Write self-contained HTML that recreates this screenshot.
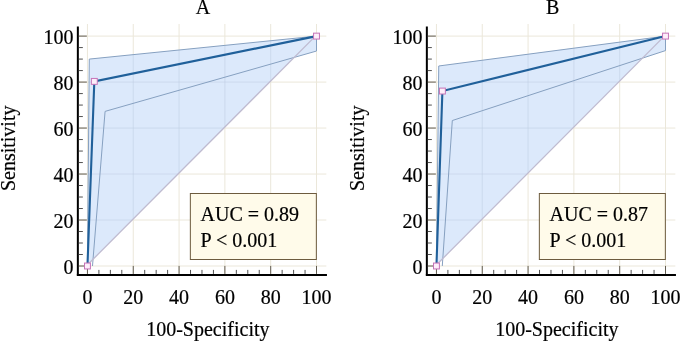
<!DOCTYPE html>
<html><head><meta charset="utf-8"><style>
html,body{margin:0;padding:0;background:#fff;}
svg{display:block;will-change:transform;}
text{font-family:"Liberation Serif",serif;font-size:20px;fill:#000;stroke:#000;stroke-width:0.2px;}
</style></head><body>
<svg width="681" height="341" viewBox="0 0 681 341">
<rect width="681" height="341" fill="#fff"/>
<line x1="77.85" y1="266.00" x2="326.35" y2="266.00" stroke="#ebe7da" stroke-width="1"/>
<line x1="87.45" y1="24" x2="87.45" y2="274" stroke="#ebe7da" stroke-width="1"/>
<line x1="77.85" y1="220.02" x2="326.35" y2="220.02" stroke="#ebe7da" stroke-width="1"/>
<line x1="133.26" y1="24" x2="133.26" y2="274" stroke="#ebe7da" stroke-width="1"/>
<line x1="77.85" y1="174.04" x2="326.35" y2="174.04" stroke="#ebe7da" stroke-width="1"/>
<line x1="179.07" y1="24" x2="179.07" y2="274" stroke="#ebe7da" stroke-width="1"/>
<line x1="77.85" y1="128.06" x2="326.35" y2="128.06" stroke="#ebe7da" stroke-width="1"/>
<line x1="224.88" y1="24" x2="224.88" y2="274" stroke="#ebe7da" stroke-width="1"/>
<line x1="77.85" y1="82.08" x2="326.35" y2="82.08" stroke="#ebe7da" stroke-width="1"/>
<line x1="270.69" y1="24" x2="270.69" y2="274" stroke="#ebe7da" stroke-width="1"/>
<line x1="77.85" y1="36.10" x2="326.35" y2="36.10" stroke="#ebe7da" stroke-width="1"/>
<line x1="316.50" y1="24" x2="316.50" y2="274" stroke="#ebe7da" stroke-width="1"/>
<clipPath id="cA"><polygon points="87.45,266.00 89.28,59.09 316.50,36.10 316.50,51.04 294.16,57.42 86.35,266.00"/></clipPath>
<polygon points="87.45,266.00 89.28,59.09 316.50,36.10 316.50,51.04 294.16,57.42 86.35,266.00" fill="#dce9fb"/>
<g clip-path="url(#cA)" stroke="#c0cde2" stroke-opacity="0.55" stroke-width="1"><line x1="77.85" y1="266.00" x2="326.35" y2="266.00"/><line x1="87.45" y1="24" x2="87.45" y2="274"/><line x1="77.85" y1="220.02" x2="326.35" y2="220.02"/><line x1="133.26" y1="24" x2="133.26" y2="274"/><line x1="77.85" y1="174.04" x2="326.35" y2="174.04"/><line x1="179.07" y1="24" x2="179.07" y2="274"/><line x1="77.85" y1="128.06" x2="326.35" y2="128.06"/><line x1="224.88" y1="24" x2="224.88" y2="274"/><line x1="77.85" y1="82.08" x2="326.35" y2="82.08"/><line x1="270.69" y1="24" x2="270.69" y2="274"/><line x1="77.85" y1="36.10" x2="326.35" y2="36.10"/><line x1="316.50" y1="24" x2="316.50" y2="274"/></g>
<polyline points="87.45,266.00 89.28,59.09 316.50,36.10" fill="none" stroke="#86a0c0" stroke-width="1"/>
<polyline points="92.49,266.00 105.09,111.39 316.50,51.04 316.50,36.10" fill="none" stroke="#86a0c0" stroke-width="1"/>
<line x1="86.35" y1="266.00" x2="315.40" y2="36.10" stroke="#bfbbd0" stroke-width="1.3"/>
<polyline points="87.45,266.00 94.32,81.39 316.50,36.10" fill="none" stroke="#20609a" stroke-width="2.1"/>
<line x1="77.85" y1="26.5" x2="77.85" y2="275.5" stroke="#000" stroke-width="2"/>
<line x1="76.85" y1="274.9" x2="326.95" y2="274.9" stroke="#000" stroke-width="2"/>
<line x1="78.85" y1="266.00" x2="86.85" y2="266.00" stroke="#625c50" stroke-width="1"/>
<line x1="87.45" y1="273.9" x2="87.45" y2="265.90" stroke="#625c50" stroke-width="1"/>
<line x1="78.85" y1="254.50" x2="82.85" y2="254.50" stroke="#505050" stroke-width="1"/>
<line x1="98.90" y1="273.9" x2="98.90" y2="269.90" stroke="#505050" stroke-width="1"/>
<line x1="78.85" y1="243.01" x2="82.85" y2="243.01" stroke="#505050" stroke-width="1"/>
<line x1="110.36" y1="273.9" x2="110.36" y2="269.90" stroke="#505050" stroke-width="1"/>
<line x1="78.85" y1="231.51" x2="82.85" y2="231.51" stroke="#505050" stroke-width="1"/>
<line x1="121.81" y1="273.9" x2="121.81" y2="269.90" stroke="#505050" stroke-width="1"/>
<line x1="78.85" y1="220.02" x2="86.85" y2="220.02" stroke="#625c50" stroke-width="1"/>
<line x1="133.26" y1="273.9" x2="133.26" y2="265.90" stroke="#625c50" stroke-width="1"/>
<line x1="78.85" y1="208.53" x2="82.85" y2="208.53" stroke="#505050" stroke-width="1"/>
<line x1="144.71" y1="273.9" x2="144.71" y2="269.90" stroke="#505050" stroke-width="1"/>
<line x1="78.85" y1="197.03" x2="82.85" y2="197.03" stroke="#505050" stroke-width="1"/>
<line x1="156.17" y1="273.9" x2="156.17" y2="269.90" stroke="#505050" stroke-width="1"/>
<line x1="78.85" y1="185.53" x2="82.85" y2="185.53" stroke="#505050" stroke-width="1"/>
<line x1="167.62" y1="273.9" x2="167.62" y2="269.90" stroke="#505050" stroke-width="1"/>
<line x1="78.85" y1="174.04" x2="86.85" y2="174.04" stroke="#625c50" stroke-width="1"/>
<line x1="179.07" y1="273.9" x2="179.07" y2="265.90" stroke="#625c50" stroke-width="1"/>
<line x1="78.85" y1="162.55" x2="82.85" y2="162.55" stroke="#505050" stroke-width="1"/>
<line x1="190.52" y1="273.9" x2="190.52" y2="269.90" stroke="#505050" stroke-width="1"/>
<line x1="78.85" y1="151.05" x2="82.85" y2="151.05" stroke="#505050" stroke-width="1"/>
<line x1="201.98" y1="273.9" x2="201.98" y2="269.90" stroke="#505050" stroke-width="1"/>
<line x1="78.85" y1="139.56" x2="82.85" y2="139.56" stroke="#505050" stroke-width="1"/>
<line x1="213.43" y1="273.9" x2="213.43" y2="269.90" stroke="#505050" stroke-width="1"/>
<line x1="78.85" y1="128.06" x2="86.85" y2="128.06" stroke="#625c50" stroke-width="1"/>
<line x1="224.88" y1="273.9" x2="224.88" y2="265.90" stroke="#625c50" stroke-width="1"/>
<line x1="78.85" y1="116.56" x2="82.85" y2="116.56" stroke="#505050" stroke-width="1"/>
<line x1="236.33" y1="273.9" x2="236.33" y2="269.90" stroke="#505050" stroke-width="1"/>
<line x1="78.85" y1="105.07" x2="82.85" y2="105.07" stroke="#505050" stroke-width="1"/>
<line x1="247.79" y1="273.9" x2="247.79" y2="269.90" stroke="#505050" stroke-width="1"/>
<line x1="78.85" y1="93.58" x2="82.85" y2="93.58" stroke="#505050" stroke-width="1"/>
<line x1="259.24" y1="273.9" x2="259.24" y2="269.90" stroke="#505050" stroke-width="1"/>
<line x1="78.85" y1="82.08" x2="86.85" y2="82.08" stroke="#625c50" stroke-width="1"/>
<line x1="270.69" y1="273.9" x2="270.69" y2="265.90" stroke="#625c50" stroke-width="1"/>
<line x1="78.85" y1="70.59" x2="82.85" y2="70.59" stroke="#505050" stroke-width="1"/>
<line x1="282.14" y1="273.9" x2="282.14" y2="269.90" stroke="#505050" stroke-width="1"/>
<line x1="78.85" y1="59.09" x2="82.85" y2="59.09" stroke="#505050" stroke-width="1"/>
<line x1="293.60" y1="273.9" x2="293.60" y2="269.90" stroke="#505050" stroke-width="1"/>
<line x1="78.85" y1="47.59" x2="82.85" y2="47.59" stroke="#505050" stroke-width="1"/>
<line x1="305.05" y1="273.9" x2="305.05" y2="269.90" stroke="#505050" stroke-width="1"/>
<line x1="78.85" y1="36.10" x2="86.85" y2="36.10" stroke="#625c50" stroke-width="1"/>
<line x1="316.50" y1="273.9" x2="316.50" y2="265.90" stroke="#625c50" stroke-width="1"/>
<rect x="84.50" y="263.05" width="5.9" height="5.9" fill="#fdeefa" stroke="#c674b8" stroke-width="1"/>
<rect x="91.37" y="78.44" width="5.9" height="5.9" fill="#fdeefa" stroke="#c674b8" stroke-width="1"/>
<rect x="313.55" y="33.15" width="5.9" height="5.9" fill="#fdeefa" stroke="#c674b8" stroke-width="1"/>
<text x="73.55" y="273.50" text-anchor="end">0</text>
<text x="87.45" y="303.8" text-anchor="middle">0</text>
<text x="73.55" y="227.52" text-anchor="end">20</text>
<text x="133.26" y="303.8" text-anchor="middle">20</text>
<text x="73.55" y="181.54" text-anchor="end">40</text>
<text x="179.07" y="303.8" text-anchor="middle">40</text>
<text x="73.55" y="135.56" text-anchor="end">60</text>
<text x="224.88" y="303.8" text-anchor="middle">60</text>
<text x="73.55" y="89.58" text-anchor="end">80</text>
<text x="270.69" y="303.8" text-anchor="middle">80</text>
<text x="73.55" y="43.60" text-anchor="end">100</text>
<text x="316.50" y="303.8" text-anchor="middle">100</text>
<text x="207.85" y="335.7" text-anchor="middle">100-Specificity</text>
<text transform="translate(14.85,148.3) rotate(-90)" text-anchor="middle">Sensitivity</text>
<text x="202.95" y="14.2" text-anchor="middle">A</text>
<rect x="190.35" y="193.5" width="126" height="66" fill="#fffbea" stroke="#6d5b3e" stroke-width="1"/>
<text x="200.55" y="221">AUC = 0.89</text>
<text x="200.55" y="247.3">P &lt; 0.001</text>
<line x1="426.85" y1="266.00" x2="675.35" y2="266.00" stroke="#ebe7da" stroke-width="1"/>
<line x1="436.45" y1="24" x2="436.45" y2="274" stroke="#ebe7da" stroke-width="1"/>
<line x1="426.85" y1="220.02" x2="675.35" y2="220.02" stroke="#ebe7da" stroke-width="1"/>
<line x1="482.26" y1="24" x2="482.26" y2="274" stroke="#ebe7da" stroke-width="1"/>
<line x1="426.85" y1="174.04" x2="675.35" y2="174.04" stroke="#ebe7da" stroke-width="1"/>
<line x1="528.07" y1="24" x2="528.07" y2="274" stroke="#ebe7da" stroke-width="1"/>
<line x1="426.85" y1="128.06" x2="675.35" y2="128.06" stroke="#ebe7da" stroke-width="1"/>
<line x1="573.88" y1="24" x2="573.88" y2="274" stroke="#ebe7da" stroke-width="1"/>
<line x1="426.85" y1="82.08" x2="675.35" y2="82.08" stroke="#ebe7da" stroke-width="1"/>
<line x1="619.69" y1="24" x2="619.69" y2="274" stroke="#ebe7da" stroke-width="1"/>
<line x1="426.85" y1="36.10" x2="675.35" y2="36.10" stroke="#ebe7da" stroke-width="1"/>
<line x1="665.50" y1="24" x2="665.50" y2="274" stroke="#ebe7da" stroke-width="1"/>
<clipPath id="cB"><polygon points="436.45,266.00 438.74,65.99 665.50,36.10 665.50,50.58 642.43,58.15 435.35,266.00"/></clipPath>
<polygon points="436.45,266.00 438.74,65.99 665.50,36.10 665.50,50.58 642.43,58.15 435.35,266.00" fill="#dce9fb"/>
<g clip-path="url(#cB)" stroke="#c0cde2" stroke-opacity="0.55" stroke-width="1"><line x1="426.85" y1="266.00" x2="675.35" y2="266.00"/><line x1="436.45" y1="24" x2="436.45" y2="274"/><line x1="426.85" y1="220.02" x2="675.35" y2="220.02"/><line x1="482.26" y1="24" x2="482.26" y2="274"/><line x1="426.85" y1="174.04" x2="675.35" y2="174.04"/><line x1="528.07" y1="24" x2="528.07" y2="274"/><line x1="426.85" y1="128.06" x2="675.35" y2="128.06"/><line x1="573.88" y1="24" x2="573.88" y2="274"/><line x1="426.85" y1="82.08" x2="675.35" y2="82.08"/><line x1="619.69" y1="24" x2="619.69" y2="274"/><line x1="426.85" y1="36.10" x2="675.35" y2="36.10"/><line x1="665.50" y1="24" x2="665.50" y2="274"/></g>
<polyline points="436.45,266.00 438.74,65.99 665.50,36.10" fill="none" stroke="#86a0c0" stroke-width="1"/>
<polyline points="442.29,266.00 452.30,120.54 665.50,50.58 665.50,36.10" fill="none" stroke="#86a0c0" stroke-width="1"/>
<line x1="435.35" y1="266.00" x2="664.40" y2="36.10" stroke="#bfbbd0" stroke-width="1.3"/>
<polyline points="436.45,266.00 442.41,91.05 665.50,36.10" fill="none" stroke="#20609a" stroke-width="2.1"/>
<line x1="426.85" y1="26.5" x2="426.85" y2="275.5" stroke="#000" stroke-width="2"/>
<line x1="425.85" y1="274.9" x2="675.95" y2="274.9" stroke="#000" stroke-width="2"/>
<line x1="427.85" y1="266.00" x2="435.85" y2="266.00" stroke="#625c50" stroke-width="1"/>
<line x1="436.45" y1="273.9" x2="436.45" y2="265.90" stroke="#625c50" stroke-width="1"/>
<line x1="427.85" y1="254.50" x2="431.85" y2="254.50" stroke="#505050" stroke-width="1"/>
<line x1="447.90" y1="273.9" x2="447.90" y2="269.90" stroke="#505050" stroke-width="1"/>
<line x1="427.85" y1="243.01" x2="431.85" y2="243.01" stroke="#505050" stroke-width="1"/>
<line x1="459.36" y1="273.9" x2="459.36" y2="269.90" stroke="#505050" stroke-width="1"/>
<line x1="427.85" y1="231.51" x2="431.85" y2="231.51" stroke="#505050" stroke-width="1"/>
<line x1="470.81" y1="273.9" x2="470.81" y2="269.90" stroke="#505050" stroke-width="1"/>
<line x1="427.85" y1="220.02" x2="435.85" y2="220.02" stroke="#625c50" stroke-width="1"/>
<line x1="482.26" y1="273.9" x2="482.26" y2="265.90" stroke="#625c50" stroke-width="1"/>
<line x1="427.85" y1="208.53" x2="431.85" y2="208.53" stroke="#505050" stroke-width="1"/>
<line x1="493.71" y1="273.9" x2="493.71" y2="269.90" stroke="#505050" stroke-width="1"/>
<line x1="427.85" y1="197.03" x2="431.85" y2="197.03" stroke="#505050" stroke-width="1"/>
<line x1="505.16" y1="273.9" x2="505.16" y2="269.90" stroke="#505050" stroke-width="1"/>
<line x1="427.85" y1="185.53" x2="431.85" y2="185.53" stroke="#505050" stroke-width="1"/>
<line x1="516.62" y1="273.9" x2="516.62" y2="269.90" stroke="#505050" stroke-width="1"/>
<line x1="427.85" y1="174.04" x2="435.85" y2="174.04" stroke="#625c50" stroke-width="1"/>
<line x1="528.07" y1="273.9" x2="528.07" y2="265.90" stroke="#625c50" stroke-width="1"/>
<line x1="427.85" y1="162.55" x2="431.85" y2="162.55" stroke="#505050" stroke-width="1"/>
<line x1="539.52" y1="273.9" x2="539.52" y2="269.90" stroke="#505050" stroke-width="1"/>
<line x1="427.85" y1="151.05" x2="431.85" y2="151.05" stroke="#505050" stroke-width="1"/>
<line x1="550.98" y1="273.9" x2="550.98" y2="269.90" stroke="#505050" stroke-width="1"/>
<line x1="427.85" y1="139.56" x2="431.85" y2="139.56" stroke="#505050" stroke-width="1"/>
<line x1="562.43" y1="273.9" x2="562.43" y2="269.90" stroke="#505050" stroke-width="1"/>
<line x1="427.85" y1="128.06" x2="435.85" y2="128.06" stroke="#625c50" stroke-width="1"/>
<line x1="573.88" y1="273.9" x2="573.88" y2="265.90" stroke="#625c50" stroke-width="1"/>
<line x1="427.85" y1="116.56" x2="431.85" y2="116.56" stroke="#505050" stroke-width="1"/>
<line x1="585.33" y1="273.9" x2="585.33" y2="269.90" stroke="#505050" stroke-width="1"/>
<line x1="427.85" y1="105.07" x2="431.85" y2="105.07" stroke="#505050" stroke-width="1"/>
<line x1="596.78" y1="273.9" x2="596.78" y2="269.90" stroke="#505050" stroke-width="1"/>
<line x1="427.85" y1="93.58" x2="431.85" y2="93.58" stroke="#505050" stroke-width="1"/>
<line x1="608.24" y1="273.9" x2="608.24" y2="269.90" stroke="#505050" stroke-width="1"/>
<line x1="427.85" y1="82.08" x2="435.85" y2="82.08" stroke="#625c50" stroke-width="1"/>
<line x1="619.69" y1="273.9" x2="619.69" y2="265.90" stroke="#625c50" stroke-width="1"/>
<line x1="427.85" y1="70.59" x2="431.85" y2="70.59" stroke="#505050" stroke-width="1"/>
<line x1="631.14" y1="273.9" x2="631.14" y2="269.90" stroke="#505050" stroke-width="1"/>
<line x1="427.85" y1="59.09" x2="431.85" y2="59.09" stroke="#505050" stroke-width="1"/>
<line x1="642.60" y1="273.9" x2="642.60" y2="269.90" stroke="#505050" stroke-width="1"/>
<line x1="427.85" y1="47.59" x2="431.85" y2="47.59" stroke="#505050" stroke-width="1"/>
<line x1="654.05" y1="273.9" x2="654.05" y2="269.90" stroke="#505050" stroke-width="1"/>
<line x1="427.85" y1="36.10" x2="435.85" y2="36.10" stroke="#625c50" stroke-width="1"/>
<line x1="665.50" y1="273.9" x2="665.50" y2="265.90" stroke="#625c50" stroke-width="1"/>
<rect x="433.50" y="263.05" width="5.9" height="5.9" fill="#fdeefa" stroke="#c674b8" stroke-width="1"/>
<rect x="439.46" y="88.10" width="5.9" height="5.9" fill="#fdeefa" stroke="#c674b8" stroke-width="1"/>
<rect x="662.55" y="33.15" width="5.9" height="5.9" fill="#fdeefa" stroke="#c674b8" stroke-width="1"/>
<text x="422.55" y="273.50" text-anchor="end">0</text>
<text x="436.45" y="303.8" text-anchor="middle">0</text>
<text x="422.55" y="227.52" text-anchor="end">20</text>
<text x="482.26" y="303.8" text-anchor="middle">20</text>
<text x="422.55" y="181.54" text-anchor="end">40</text>
<text x="528.07" y="303.8" text-anchor="middle">40</text>
<text x="422.55" y="135.56" text-anchor="end">60</text>
<text x="573.88" y="303.8" text-anchor="middle">60</text>
<text x="422.55" y="89.58" text-anchor="end">80</text>
<text x="619.69" y="303.8" text-anchor="middle">80</text>
<text x="422.55" y="43.60" text-anchor="end">100</text>
<text x="665.50" y="303.8" text-anchor="middle">100</text>
<text x="556.85" y="335.7" text-anchor="middle">100-Specificity</text>
<text transform="translate(363.85,148.3) rotate(-90)" text-anchor="middle">Sensitivity</text>
<text x="552.75" y="14.2" text-anchor="middle">B</text>
<rect x="539.35" y="193.5" width="126" height="66" fill="#fffbea" stroke="#6d5b3e" stroke-width="1"/>
<text x="549.55" y="221">AUC = 0.87</text>
<text x="549.55" y="247.3">P &lt; 0.001</text>
</svg>
</body></html>
